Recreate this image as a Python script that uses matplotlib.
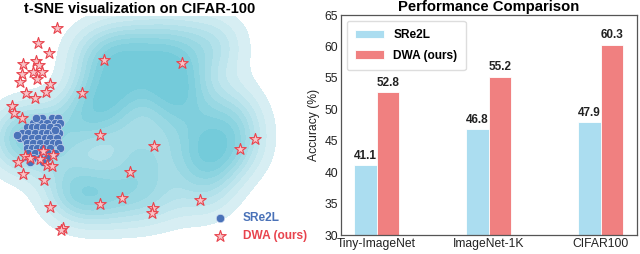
import numpy as np
import matplotlib
matplotlib.use("Agg")
import matplotlib.pyplot as plt
from matplotlib.colors import LinearSegmentedColormap

plt.rcParams['font.family'] = ['Liberation Sans', 'DejaVu Sans']

# ---------------- data ----------------
# t-SNE panel (coordinates, arbitrary embedding units)
sre2l_x = [42, 52, 58, 33, 40, 47, 55, 60, 27, 32, 37, 43, 50, 57, 22, 28, 35, 42, 47, 53, 59,
           20, 25, 32, 38, 45, 50, 57, 27, 33, 40, 47, 53, 58, 27, 32, 37, 43, 50, 60,
           28, 35, 42, 48, 55, 28, 33, 40, 47, 30, 43, 17, 36, 55]
sre2l_y = [120, 120, 120, 125, 125, 125, 125, 125, 129, 129, 129, 129, 129, 129, 135, 135, 135, 135, 135, 135, 135,
           140, 140, 140, 140, 140, 140, 140, 145, 145, 145, 145, 145, 145, 150, 150, 150, 150, 150, 150,
           155, 155, 155, 155, 155, 160, 160, 160, 160, 165, 165, 137, 120, 132]
dwa_x = [57, 38, 49, 104, 182, 23, 36, 39, 22, 33, 42, 20, 37, 50, 26, 46, 35, 82, 12, 14, 22,
         100, 154, 255, 240, 130, 43, 53, 25, 30, 40, 18, 47, 52, 23, 44, 50, 100, 122, 153, 152,
         200, 63, 61]
dwa_y = [28, 43, 54, 61, 64, 65, 62, 66, 75, 73, 73, 83, 80, 85, 94, 93, 99, 94, 108, 115, 120,
         137, 148, 141, 151, 175, 153, 157, 158, 160, 161, 165, 168, 169, 177, 183, 210, 207, 201, 211, 216,
         203, 232, 234]
# background embedding (full dataset) used for the density
bg_x = [172, 205, 93, 75, 130, 215, 232, 140, 150, 205, 95, 60, 25, 120, 180, 238, 110, 18, 170]
bg_y = [78, 155, 113, 195, 50, 45, 115, 155, 200, 195, 55, 140, 135, 90, 110, 150, 200, 150, 40]
bg_w = [0.9, 0.9, 0.9, 0.9, 0.7, 0.6, 0.6, 0.7, 0.6, 0.5, 0.6, 0.5, 0.7, 0.7, 0.7, 0.5, 0.6, 0.4, 0.5]

# bar panel
datasets = ['Tiny-ImageNet', 'ImageNet-1K', 'CIFAR100']
sre2l_acc = [41.1, 46.8, 47.9]
dwa_acc = [52.8, 55.2, 60.3]

# ---------------- figure ----------------
fig = plt.figure(figsize=(6.4, 2.54), dpi=100)

# left panel
ax1 = fig.add_axes([0, 4 / 254, 280 / 640, 234 / 254])
gx, gy = np.meshgrid(np.linspace(0, 280, 300), np.linspace(16, 254, 260))
h = 25.0
dens = np.zeros_like(gx)
for x, y, w in zip(bg_x, bg_y, bg_w):
    dens += w * np.exp(-((gx - x) ** 2 + (gy - y) ** 2) / (2 * h * h))
dens /= dens.max()
levels = [0.15, 0.27, 0.37, 0.46, 0.54, 0.62, 0.70, 0.78, 0.87, 1.01]
cmap = LinearSegmentedColormap.from_list('c', ['#d7eef3', '#74cbda'])
cols = [cmap(i / (len(levels) - 2)) for i in range(len(levels) - 1)]
ax1.contourf(gx, gy, dens, levels=levels, colors=cols)
ax1.scatter(sre2l_x, sre2l_y, s=36, marker='o', facecolor='#4a72b8', edgecolor='#c9d7ee',
            linewidths=0.5, label='SRe2L', zorder=3)
ax1.scatter(dwa_x, dwa_y, s=75, marker='*', facecolor='#f8c4c8', edgecolor='#e8434d',
            linewidths=0.8, label='DWA (ours)', zorder=4)
ax1.set_xlim(0, 280)
ax1.set_ylim(254, 16)
ax1.axis('off')
ax1.set_title('t-SNE visualization on CIFAR-100', fontsize=10.5, fontweight='bold', pad=2.2)
leg1 = ax1.legend(loc='lower left', bbox_to_anchor=(200 / 280, 0.0), frameon=False,
                  prop={'weight': 'bold', 'size': 8.6}, handletextpad=0.9,
                  labelspacing=0.45, scatterpoints=1, borderaxespad=0.3)
for t, c in zip(leg1.get_texts(), ['#4a72b8', '#e8434d']):
    t.set_color(c)

# right panel
ax2 = fig.add_axes([340.7 / 640, 19 / 254, 296 / 640, 220 / 254])
xpos = np.arange(len(datasets))
wbar = 0.2
b1 = ax2.bar(xpos - wbar / 2, sre2l_acc, wbar, color='#abddf0', edgecolor='white',
             linewidth=0.6, label='SRe2L')
b2 = ax2.bar(xpos + wbar / 2, dwa_acc, wbar, color='#f08080', edgecolor='white',
             linewidth=0.6, label='DWA (ours)')
for bars, vals in ((b1, sre2l_acc), (b2, dwa_acc)):
    for r, v in zip(bars, vals):
        ax2.text(r.get_x() + r.get_width() / 2, v + 0.5, f'{v:.1f}', ha='center', va='bottom',
                 fontsize=8.5, fontweight='bold', color='#222222')
ax2.set_ylim(30, 65)
ax2.set_yticks(range(30, 66, 5))
ax2.set_xticks(xpos)
ax2.set_xticklabels(datasets)
ax2.tick_params(length=0, labelsize=8.7, pad=2, colors='#222222')
ax2.set_ylabel('Accuracy (%)', fontsize=8.7, labelpad=3, color='#222222')
ax2.set_title('Performance Comparison', fontsize=10.7, fontweight='bold', pad=2.8)
for s in ax2.spines.values():
    s.set_color('#555555')
    s.set_linewidth(0.9)
ax2.legend(loc='upper left', prop={'weight': 'bold', 'size': 8.6}, framealpha=1,
           edgecolor='#dddddd', fancybox=True, handlelength=2.4, borderpad=0.7,
           labelspacing=0.7)

fig.savefig('out.png', dpi=100)
